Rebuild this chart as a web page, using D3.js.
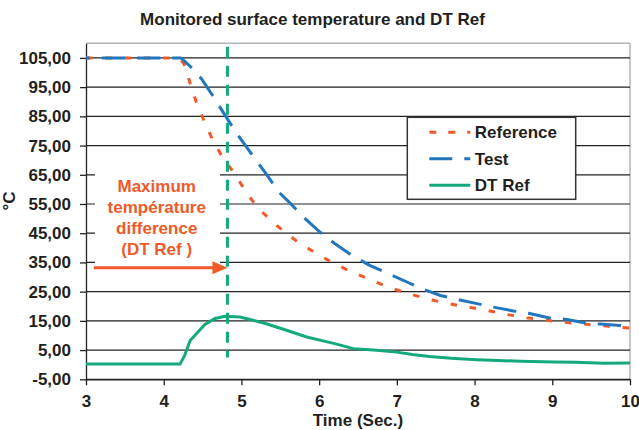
<!DOCTYPE html>
<html>
<head>
<meta charset="utf-8">
<script src="https://cdn.jsdelivr.net/npm/d3@7"></script>
<style>
  body { margin: 0; background: #fff; }
  text { font-family: "Liberation Sans", Arial, sans-serif; font-weight: bold; }
</style>
</head>
<body>
<div id="chart"></div>
<script>
// values (time in seconds, temperature in °C)
const refTime = [3, 4.2, 4.26, 4.34, 4.42, 4.52, 4.64, 4.76, 4.88, 4.98, 5.1, 5.24, 5.45, 5.7, 5.93, 6.18, 6.42, 6.68, 6.91, 7.17, 7.41, 7.66, 7.92, 8.16, 8.41, 8.67, 8.92, 9.2, 9.45, 9.7, 10]
const refTemp = [105, 105, 103, 96.3, 89.8, 83.4, 76.4, 70.9, 66.5, 62.5, 57.5, 52.9, 47.7, 42.5, 38.6, 34.8, 31.7, 28.9, 26.3, 24.2, 22.4, 20.9, 19.7, 18.6, 17.2, 16.1, 15.2, 14.4, 13.8, 13.2, 12.5]

const testTime = [3, 4.22, 4.25, 4.37, 4.49, 4.64, 4.76, 4.92, 5.05, 5.17, 5.33, 5.48, 5.63, 5.82, 6.01, 6.2, 6.4, 6.65, 6.87, 7.13, 7.32, 7.56, 7.77, 8.03, 8.24, 8.5, 8.71, 8.95, 9.19, 9.44, 9.62, 9.87, 10]
const testTemp = [105, 105, 104.3, 101.4, 97.7, 91.7, 86.6, 79.9, 75.1, 70.6, 64.9, 59.1, 55.2, 50, 45.4, 41.5, 37.8, 34, 31.4, 28.3, 26, 23.7, 22.4, 20.9, 19.7, 18.4, 17.5, 16.1, 15.5, 14.2, 13.9, 13.4, 12.6]

const dtTime = [3, 4.21, 4.27, 4.34, 4.42, 4.53, 4.66, 4.79, 4.98, 5.15, 5.32, 5.58, 5.84, 6.01, 6.2, 6.44, 6.7, 7, 7.2, 7.42, 7.7, 8.03, 8.3, 8.59, 9.02, 9.3, 9.66, 10]
const dtTemp = [0.2, 0.2, 3.2, 8.3, 10.6, 13.8, 15.8, 16.6, 16.3, 15.2, 14, 11.8, 9.5, 8.4, 7.2, 5.5, 5, 4.3, 3.5, 2.8, 2.2, 1.7, 1.4, 1.2, 0.9, 0.8, 0.5, 0.6]

const xTicks = [3, 4, 5, 6, 7, 8, 9, 10]
const yTicks = [-5, 5, 15, 25, 35, 45, 55, 65, 75, 85, 95, 105]
const seriesNames = ["Reference", "Test", "DT Ref"]
const noteLines = ["Maximum", "température", "difference", "(DT Ref )"]
const maxDiffTime = 4.82   // green marker line
const arrowFrom = 3.1, arrowTemp = 33.2

const orange = "#ef5a28", blue = "#2176bd", green = "#14a97c", ink = "#231f20"

const margin = {top: 43.3, right: 9, bottom: 50.7, left: 86},
    width = 639 - margin.left - margin.right,
    height = 430 - margin.top - margin.bottom;

const svg = d3.select("#chart").append("svg").attr("width", 639).attr("height", 430)
const g = svg.append("g").attr("transform", `translate(${margin.left},${margin.top})`)

const x = d3.scaleLinear().domain([3, 10]).range([0, width])
const y = d3.scaleLinear().domain([-5, 110]).range([height, 0])

const comma = d3.formatLocale({decimal: ",", thousands: ".", grouping: [3], currency: ["", ""], minus: "-"}).format(".2f")

// plot area border (top / right are light gray)
g.append("line").attr("x1", 0).attr("x2", width).attr("y1", 0).attr("y2", 0).attr("stroke", "#b4b4b4").attr("stroke-width", 1.5)
g.append("line").attr("x1", width).attr("x2", width).attr("y1", 0).attr("y2", height).attr("stroke", "#b4b4b4").attr("stroke-width", 1.5)

// gridlines
g.selectAll(".grid").data(yTicks).enter().append("line").attr("class", "grid")
  .attr("x1", 0).attr("x2", width)
  .attr("y1", d => y(d)).attr("y2", d => y(d))
  .attr("stroke", "#222").attr("stroke-width", 1.2)

// white box behind the note
g.append("rect").attr("x", 9).attr("y", 127).attr("width", 125).attr("height", 102).attr("fill", "#fff")

//=========================================/
const xAxis = d3.axisBottom(x).tickValues(xTicks).tickSize(6).tickSizeOuter(0).tickPadding(10).tickFormat(d3.format("d"))
const yAxis = d3.axisLeft(y).tickValues(yTicks).tickSize(6).tickSizeOuter(0).tickPadding(9).tickFormat(comma)

g.append("g").attr("transform", "translate(0," + height + ")").call(xAxis)
g.append("g").call(yAxis)
g.selectAll(".domain, .tick line").attr("stroke", "#222").attr("stroke-width", 1.3)
g.selectAll(".tick text").attr("font-size", 17).attr("fill", ink)
  .style("font-family", '"Liberation Sans", Arial, sans-serif').style("font-weight", "bold")
//=========================================/

const line = d3.line().x(d => x(d[0])).y(d => y(d[1]))

g.append("path").datum(d3.zip(refTime, refTemp)).attr("d", line)
  .attr("fill", "none").attr("stroke", orange).attr("stroke-width", 3)
  .attr("stroke-dasharray", "6.5,12.8")

g.append("path").datum(d3.zip(testTime, testTemp)).attr("d", line)
  .attr("fill", "none").attr("stroke", blue).attr("stroke-width", 3)
  .attr("stroke-dasharray", "23.3,12").attr("stroke-dashoffset", 19.6)

g.append("path").datum(d3.zip(dtTime, dtTemp)).attr("d", line)
  .attr("fill", "none").attr("stroke", green).attr("stroke-width", 3)

// marker for the maximum difference
g.append("line")
  .attr("x1", x(maxDiffTime)).attr("x2", x(maxDiffTime))
  .attr("y1", y(108.8)).attr("y2", y(2.5))
  .attr("stroke", green).attr("stroke-width", 3).attr("stroke-dasharray", "11,8")

// arrow
const ax0 = x(arrowFrom), ax1 = x(maxDiffTime), ay = y(arrowTemp)
g.append("line").attr("x1", ax0).attr("x2", ax1 - 12).attr("y1", ay).attr("y2", ay)
  .attr("stroke", orange).attr("stroke-width", 3)
g.append("path").attr("d", `M${ax1},${ay} L${ax1 - 15},${ay - 6.5} L${ax1 - 15},${ay + 6.5} Z`).attr("fill", orange)

g.append("g").selectAll("text").data(noteLines).enter().append("text")
  .attr("x", x(3.91)).attr("y", (d, i) => 148.4 + i * 21.2)
  .attr("text-anchor", "middle").attr("font-size", 17).attr("fill", orange)
  .text(d => d)

// legend
const legend = svg.append("g").attr("transform", "translate(407.3,117.3)")
legend.append("rect").attr("width", 168.4).attr("height", 82).attr("fill", "#fff").attr("stroke", "#333").attr("stroke-width", 1.5)
const styles = [{c: orange, dash: "7,12"}, {c: blue, dash: "23,12"}, {c: green, dash: null}]
seriesNames.forEach(function(name, i) {
  const ly = 15 + i * 26.5
  legend.append("line").attr("x1", 22).attr("x2", 63).attr("y1", ly).attr("y2", ly)
    .attr("stroke", styles[i].c).attr("stroke-width", 3).attr("stroke-dasharray", styles[i].dash)
  legend.append("text").attr("x", 67.5).attr("y", ly).attr("dy", "0.36em")
    .attr("font-size", 17).attr("fill", ink).text(name)
})

// titles
svg.append("text").attr("x", 312.5).attr("y", 24.5).attr("text-anchor", "middle")
  .attr("font-size", 17).attr("fill", ink).text("Monitored surface temperature and DT Ref")
svg.append("text").attr("x", margin.left + width / 2).attr("y", 426).attr("text-anchor", "middle")
  .attr("font-size", 17).attr("fill", ink).text("Time (Sec.)")
svg.append("text").attr("transform", "translate(15,201) rotate(-90)").attr("text-anchor", "middle")
  .attr("font-size", 17).attr("fill", ink).text("°C")
</script>
</body>
</html>
